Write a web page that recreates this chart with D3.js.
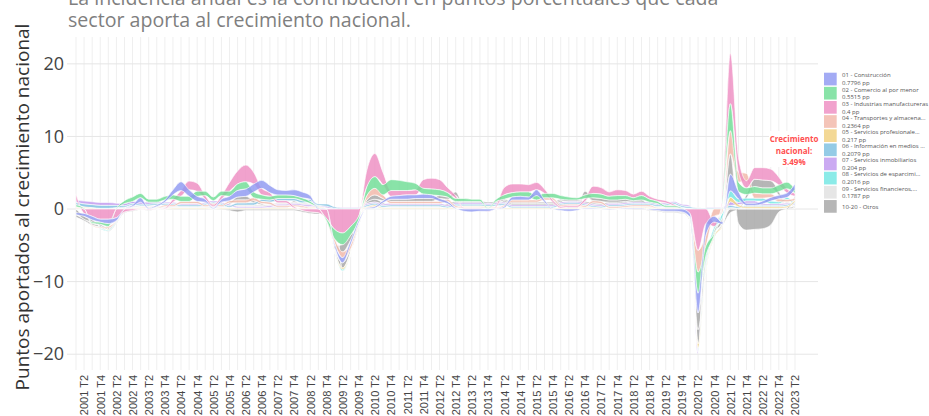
<!DOCTYPE html>
<html><head><meta charset="utf-8">
<script src="https://cdn.jsdelivr.net/npm/d3@7"></script>
<style>
body{margin:0;background:#fff;}
svg{display:block;font-family:"Open Sans",Lato,sans-serif;}
</style></head>
<body><svg id="chart" width="929" height="416"></svg>
<script>
// ---- DATA ----
const startYear = 2001, endYear = 2023, endQuarter = 2;
const titleLines = ["La incidencia anual es la contribución en puntos porcentuales que cada","sector aporta al crecimiento nacional."];
const yTitle = "Puntos aportados al crecimiento nacional";
const yTicks = [-20, -10, 0, 10, 20];
const legendLabels = ["01 - Construcción","02 - Comercio al por menor","03 - Industrias manufactureras","04 - Transportes y almacena...","05 - Servicios profesionale...","06 - Información en medios ...","07 - Servicios inmobiliarios","08 - Servicios de esparcimi...","09 - Servicios financieros,...","10-20 - Otros"];
const legendColors = ["#8f98f2","#6fdd95","#ee8ec2","#f2b7a8","#f0cf7e","#7cc0e0","#bf97ef","#71e6e3","#e0e0e0","#a6a6a6"];

const c01 = [-0.3,-0.4,-0.5,-0.4,-0.6,-0.4,0.0,0.2,0.6,0.1, 0.2,0.3,0.7,1.2,0.9,0.7,0.4,0.1,0.4,0.6, 0.9,1.0,1.1,1.1,1.0,0.7,0.6,0.8,0.8,0.5, 0.1,0.0,-0.4,-0.7,-0.6,-0.4,0.1,0.2,0.3,0.4, 0.5,0.6,0.5,0.6,0.5,0.4,0.3,0.1,-0.3,-0.4, -0.3,-0.3,0.0,0.2,0.4,0.5,0.4,0.8,0.3,0.0, -0.2,-0.3,-0.2,0.1,0.1,0.0,-0.1,0.0,0.1,0.1, 0.1,-0.1,-0.2,-0.3,-0.3,-0.4,-0.5,-2.7,-1.5,-0.8, -0.3,2.3,1.0,0.3,0.3,0.4,0.5,0.5,0.6,0.7796];
const c02 = [0.3,0.1,-0.2,-0.3,-0.4,0.1,0.4,0.6,0.6,0.4, 0.4,0.5,0.6,0.7,0.7,0.7,0.6,0.5,0.6,0.7, 0.9,1.0,0.8,0.6,0.5,0.5,0.5,0.4,0.4,0.3, 0.1,-0.3,-1.3,-1.6,-1.2,-0.5,1.2,1.6,1.4,1.5, 1.4,1.2,0.9,0.8,0.8,0.8,0.6,0.4,0.4,0.3, 0.3,0.1,0.3,0.6,0.6,0.6,0.7,0.6,0.6,0.6, 0.5,0.4,0.3,0.5,0.6,0.6,0.5,0.6,0.5,0.4, 0.6,0.4,0.3,0.2,0.2,0.1,-0.2,-2.9,-1.3,-0.3, 0.3,3.7,1.3,0.9,0.9,0.8,0.8,0.9,0.9,0.5515];
const c03 = [0.9,-0.6,-1.0,-1.4,-1.4,-1.2,-0.4,-0.2,0.0,-0.1, 0.0,0.1,0.4,0.8,1.2,1.1,0.5,0.2,0.5,1.2, 1.8,2.3,1.6,0.9,0.5,0.3,0.3,0.2,-0.2,-0.4, -0.5,-1.3,-2.8,-3.3,-2.4,-1.0,2.3,3.2,1.7,0.8, 0.7,0.6,0.7,1.2,1.5,1.4,0.7,0.4,0.1,0.1, 0.1,-0.1,0.2,1.0,1.2,1.1,1.0,1.0,0.6,0.3, 0.2,0.2,0.2,0.4,1.0,0.9,0.6,0.8,0.7,0.5, 0.6,0.4,0.3,0.3,0.2,0.0,-0.6,-5.7,-2.0,-0.6, 0.6,7.0,2.0,1.0,1.6,1.7,1.6,1.1,0.6,0.4];
const c04 = [0.1,0.0,-0.1,-0.1,-0.2,-0.1,0.1,0.1,0.1,0.1, 0.1,0.2,0.2,0.3,0.3,0.3,0.2,0.2,0.2,0.3, 0.4,0.4,0.4,0.3,0.3,0.2,0.2,0.2,0.2,0.1, 0.0,-0.1,-0.6,-0.8,-0.6,-0.2,0.6,0.9,0.5,0.3, 0.3,0.3,0.3,0.3,0.3,0.3,0.3,0.2,0.1,0.1, 0.1,0.1,0.1,0.2,0.3,0.3,0.3,0.3,0.3,0.3, 0.2,0.2,0.2,0.2,0.3,0.3,0.2,0.2,0.2,0.2, 0.2,0.2,0.1,0.1,0.1,0.0,-0.1,-3.0,-1.5,-1.0, -0.6,3.2,1.4,1.0,0.7,0.6,0.5,0.4,0.3,0.2364];
const c05 = [0.1,0.1,0.1,0.0,-0.1,0.0,0.0,0.0,0.1,0.0, 0.0,0.0,0.1,0.1,0.1,0.1,0.1,0.0,0.1,0.1, 0.1,0.1,0.1,0.1,0.1,0.1,0.1,0.1,0.1,0.1, 0.1,0.0,-0.1,-0.2,-0.1,0.0,0.1,0.2,0.1,0.1, 0.1,0.1,0.1,0.1,0.1,0.1,0.1,0.1,0.1,0.1, 0.1,0.1,0.1,0.1,0.1,0.1,0.1,0.1,0.1,0.1, 0.1,0.1,0.1,0.1,0.1,0.1,0.1,0.1,0.1,0.1, 0.1,0.1,0.1,0.0,0.0,0.0,0.0,-0.6,-0.3,-0.2, -0.1,0.6,0.3,0.2,0.2,0.2,0.2,0.2,0.2,0.217];
const c06 = [0.3,0.4,0.4,0.4,0.4,0.3,0.2,0.2,0.2,0.2, 0.2,0.2,0.2,0.2,0.2,0.2,0.2,0.2,0.2,0.2, 0.3,0.3,0.3,0.3,0.3,0.3,0.3,0.3,0.3,0.3, 0.2,0.3,0.2,0.1,0.1,0.1,0.2,0.2,0.2,0.2, 0.2,0.2,0.2,0.2,0.2,0.2,0.2,0.2,0.2,0.2, 0.2,0.2,0.2,0.2,0.2,0.2,0.2,0.2,0.2,0.2, 0.2,0.2,0.2,0.2,0.2,0.2,0.2,0.2,0.2,0.2, 0.2,0.2,0.2,0.2,0.2,0.2,0.2,0.1,0.1,0.1, 0.1,0.3,0.2,0.2,0.2,0.2,0.2,0.2,0.2,0.2079];
const c07 = [0.3,0.4,0.4,0.4,0.4,0.3,0.3,0.3,0.3,0.3, 0.2,0.2,0.2,0.2,0.2,0.2,0.2,0.2,0.2,0.2, 0.2,0.2,0.2,0.2,0.2,0.2,0.2,0.2,0.2,0.2, 0.1,0.2,0.1,0.1,0.1,0.1,0.2,0.2,0.2,0.2, 0.2,0.2,0.2,0.2,0.2,0.2,0.2,0.2,0.2,0.2, 0.2,0.2,0.2,0.2,0.2,0.2,0.2,0.2,0.2,0.2, 0.2,0.2,0.2,0.2,0.2,0.2,0.2,0.2,0.2,0.2, 0.2,0.2,0.2,0.2,0.2,0.2,0.2,-0.2,0.1,0.1, 0.1,0.5,0.3,0.3,0.3,0.2,0.2,0.2,0.2,0.204];
const c08 = [0.0,0.0,0.0,-0.1,-0.1,-0.1,0.05,0.05,0.05,0.05, 0.05,0.05,0.05,0.05,0.05,0.05,0.05,0.05,0.05,0.05, 0.05,0.05,0.05,0.05,0.05,0.05,0.05,0.05,0.05,0.05, 0.0,0.0,-0.1,-0.2,-0.1,0.0,0.05,0.05,0.05,0.05, 0.05,0.05,0.05,0.05,0.05,0.05,0.05,0.05,0.05,0.05, 0.05,0.05,0.05,0.05,0.05,0.05,0.05,0.05,0.05,0.05, 0.05,0.05,0.05,0.05,0.05,0.05,0.05,0.05,0.05,0.05, 0.05,0.05,0.05,0.05,0.05,0.05,-0.1,-0.5,-0.6,-0.5, -0.6,0.9,0.5,0.4,0.4,0.4,0.4,0.3,0.3,0.2016];
const c09 = [0.1,0.1,0.1,0.1,0.1,0.1,0.1,0.1,0.1,0.1, 0.1,0.1,0.1,0.1,0.1,0.1,0.1,0.1,0.1,0.1, 0.2,0.2,0.2,0.2,0.2,0.2,0.2,0.2,0.2,0.2, 0.1,0.1,0.0,-0.1,-0.1,0.0,0.1,0.1,0.1,0.1, 0.1,0.1,0.1,0.1,0.1,0.1,0.0,0.0,0.0,0.0, 0.0,0.0,0.0,0.0,0.0,0.0,0.0,0.0,0.0,0.0, 0.0,0.0,0.0,0.0,0.0,0.0,0.0,0.0,0.0,0.1, 0.1,0.1,0.1,0.1,0.1,0.1,0.1,0.1,0.0,0.0, 0.0,0.2,0.1,0.1,0.1,0.1,0.1,0.1,0.2,0.1787];
const otrosA = [-0.5,-0.4,-0.3,-0.2,-0.2,-0.1,0.0,0.1,0.1,0.1, 0.1,0.1,0.1,0.1,0.1,0.1,0.1,0.1,0.1,0.2, 0.4,0.5,0.3,0.2,0.1,0.1,0.1,0.2,0.1,0.1, 0.0,0.0,-0.4,-1.0,-0.7,-0.2,0.3,0.6,0.3,0.3, 0.3,0.3,0.4,0.4,0.4,0.4,0.3,0.5,0.1,0.1, 0.1,0.0,0.0,0.2,0.2,0.2,0.2,0.2,0.2,0.2, 0.2,0.1,0.1,0.5,0.4,0.4,0.3,0.3,0.3,0.2, 0.3,0.1,0.0,-0.1,-0.1,-0.1,-0.1,-2.3,-0.8,-0.4, -0.6,2.8,-2.0,-2.9,-2.8,-2.7,-2.2,-0.4,0.1,0.3133];
const otrosB = [-0.3,-0.2,-0.2,-0.2,-0.1,-0.1,-0.1,-0.1,-0.1,-0.1, -0.1,-0.1,-0.1,-0.1,-0.1,-0.1,-0.1,-0.1,-0.1,-0.2, -0.4,-0.2,-0.2,-0.2,-0.2,-0.2,-0.2,-0.2,-0.2,-0.2, -0.2,0.1,-0.2,-0.7,-0.4,-0.1,0.2,0.4,0.2,0.1, 0.1,0.1,0.1,0.1,0.1,0.1,0.2,0.2,0.2,0.2, 0.2,0.2,0.2,0.2,0.2,0.2,0.2,0.2,0.2,0.2, 0.2,0.2,0.2,0.2,0.2,0.2,0.2,0.2,0.2,-0.1, -0.1,-0.1,-0.1,-0.1,-0.1,-0.1,0.0,-2.0,-0.5,-0.2, -0.2,-0.5,0.0,0.5,1.0,1.1,1.0,0.5,0.1,0.2];

// ---- SETUP ----
const quarters = [];
for (let yr = startYear; yr <= endYear; yr++) for (let q = 1; q <= 4; q++) {
  if (yr === endYear && q > endQuarter) break;
  quarters.push(yr + " T" + q);
}
const seriesList = [
  {v:c01, leg:0},{v:c02, leg:1},{v:c03, leg:2},{v:c04, leg:3},{v:c05, leg:4},
  {v:c06, leg:5},{v:c07, leg:6},{v:c08, leg:7},{v:c09, leg:8},{v:otrosA, leg:9},{v:otrosB, leg:9}
];
const n = quarters.length;

const svg = d3.select("#chart");
const x = d3.scaleLinear().domain([0, n-1]).range([76, 795]);
const y = d3.scaleLinear().domain([-21.9, 23.7]).range([368, 37]);

// grid
const grid = svg.append("g");
grid.selectAll("line.v").data(d3.range(n)).join("line")
  .attr("x1", d=>x(d)).attr("x2", d=>x(d)).attr("y1", 37).attr("y2", 370)
  .attr("stroke", "#efefef").attr("stroke-width", 1);
grid.selectAll("line.h").data(yTicks).join("line")
  .attr("x1", 67).attr("x2", 818).attr("y1", d=>y(d)).attr("y2", d=>y(d))
  .attr("stroke", "#e6e6e6").attr("stroke-width", 1);

// stacking: per quarter, sort ascending; negatives downward, positives upward
const stacked = seriesList.map(s => ({s, pts: new Array(n)}));
for (let i = 0; i < n; i++) {
  const order = stacked.slice().sort((a,b)=>a.s.v[i]-b.s.v[i]);
  let neg = 0, pos = 0;
  order.forEach(o => { const v = o.s.v[i]; if (v < 0) { o.pts[i] = [neg, neg+v]; neg += v; } });
  order.forEach(o => { const v = o.s.v[i]; if (v >= 0) { o.pts[i] = [pos, pos+v]; pos += v; } });
}
const area = d3.area().x((d,i)=>x(i)).y0(d=>y(d[0])).y1(d=>y(d[1])).curve(d3.curveMonotoneX);
const drawOrder = stacked.slice().reverse();
svg.append("g").selectAll("path").data(drawOrder).join("path")
  .attr("d", d=>area(d.pts))
  .attr("fill", d=>legendColors[d.s.leg]).attr("fill-opacity", 0.82)
  .attr("stroke", "#ffffff").attr("stroke-width", 0.7).attr("stroke-opacity", 0.9);

// y axis
const yAxis = svg.append("g").attr("transform","translate(66,0)")
  .call(d3.axisLeft(y).tickValues(yTicks).tickSize(0).tickPadding(2).tickFormat(d3.format("d")));
yAxis.select(".domain").remove();
yAxis.selectAll("text").attr("font-size", 18).attr("fill", "#444").attr("font-family","'Open Sans',sans-serif");

// x axis
const xAxis = svg.append("g").attr("transform","translate(0,370)")
  .call(d3.axisBottom(x).tickValues(d3.range(1, n, 2)).tickSize(0).tickFormat(i=>quarters[i]));
xAxis.select(".domain").remove();
xAxis.selectAll("text").attr("font-size", 11).attr("fill", "#444")
  .attr("transform","rotate(-90)").attr("text-anchor","end")
  .attr("x", -5).attr("y", 0).attr("dy", "0.35em");

// y title
svg.append("text").attr("transform","translate(29,207) rotate(-90)")
  .attr("text-anchor","middle").attr("font-size", 19).attr("fill","#333").text(yTitle);

// title
svg.append("g").selectAll("text").data(titleLines).join("text")
  .attr("x", 68).attr("y", (d,i)=>5 + i*22).attr("font-size", 19.6).attr("fill", "#7f7f7f").text(d=>d);

// legend
const lastVals = legendLabels.map((l,k)=> k < 9 ? seriesList[k].v[n-1] : null);
const legStep = 14.15, legTop = 72.7;
const leg = svg.append("g");
legendLabels.forEach((lab, k) => {
  const top = legTop + k*legStep;
  leg.append("rect").attr("x", 824).attr("y", top).attr("width", 12.7).attr("height", 12.7)
    .attr("fill", legendColors[k]).attr("fill-opacity", 0.82);
  if (lastVals[k] !== null) {
    leg.append("text").attr("x", 842).attr("y", top+4.7).attr("font-size", 6).attr("fill","#555").text(lab);
    leg.append("text").attr("x", 842).attr("y", top+12.5).attr("font-size", 6).attr("fill","#555").text(lastVals[k] + " pp");
  } else {
    leg.append("text").attr("x", 842).attr("y", top+8.5).attr("font-size", 6).attr("fill","#555").text(lab);
  }
});

// annotation
const national = d3.sum(seriesList, s=>s.v[n-1]);
const ann = svg.append("g");
ann.append("rect").attr("x", 769).attr("y", 131).attr("width", 50).attr("height", 36).attr("fill","#fff");
["Crecimiento","nacional:", d3.format(".2f")(national) + "%"].forEach((t,i)=>{
  ann.append("text").attr("x", 794).attr("y", 142 + i*11.7).attr("text-anchor","middle")
    .attr("font-size", 8).attr("font-weight","bold").attr("fill","#ff4f4f").text(t);
});
</script>
</body></html>
